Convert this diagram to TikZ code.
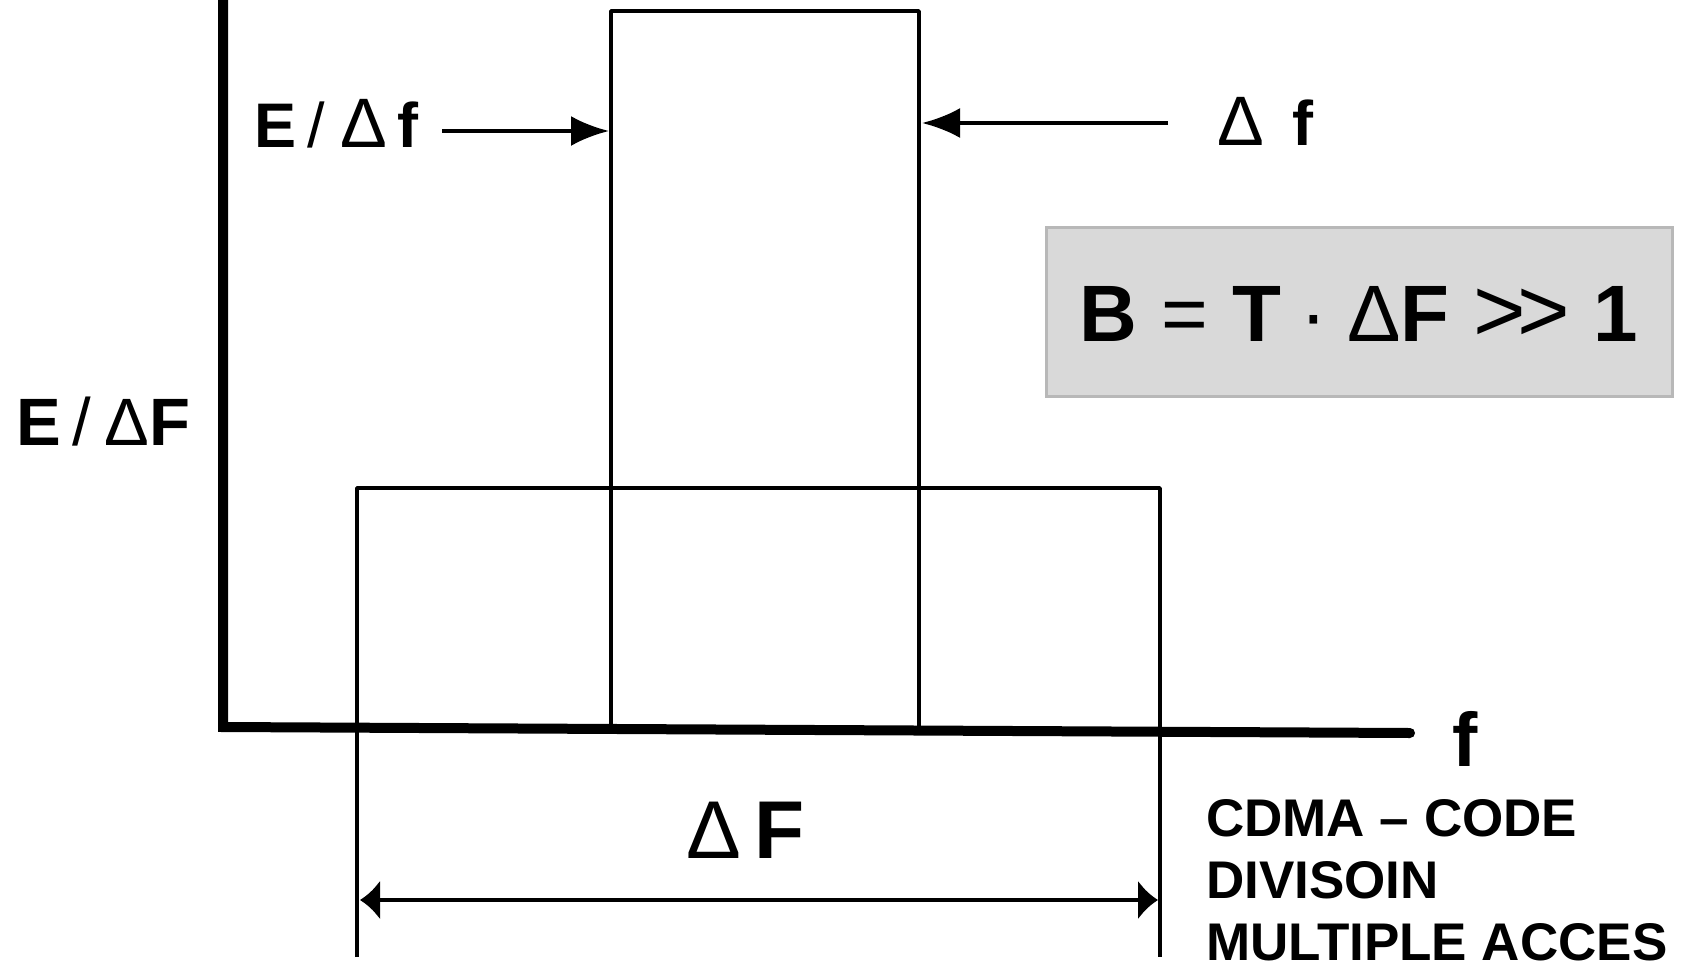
\documentclass[tikz,border=0pt]{standalone}
\usepackage{fontspec}
\setmainfont{Liberation Sans}
\usetikzlibrary{arrows.meta}
\newcommand{\dlt}{{\mdseries Δ}}
\newcommand{\gtgt}{{\mdseries\fontsize{90}{90}\selectfont >\kern-0.1em>}}
\begin{document}
\begin{tikzpicture}[x=1pt,y=-1pt,
  thinln/.style={line width=3.5pt, line join=round},
  axisln/.style={line width=10pt, line join=miter},
  arr/.style={line width=4pt, -{Latex[length=38pt,width=30pt]}},
  dimarr/.style={line width=4pt, {Latex[length=20pt,width=40pt]}-{Latex[length=20pt,width=40pt]}},
  lbl/.style={inner sep=0pt, font=\bfseries}]
\useasboundingbox (0,0) rectangle (1681,969);
% rectangles
\draw[thinln] (611,727) -- (611,11) -- (919,11) -- (919,727);
\draw[thinln] (357,957) -- (357,488) -- (1160,488) -- (1160,957);
% axes
\draw[axisln] (223,-5) -- (223,727) -- (1410,733);
\fill (1410,733) circle (5pt);
% gray box
\node[draw=black!28, line width=3pt, fill=black!15, minimum width=626pt, minimum height=169pt, inner sep=0pt] (box) at (1359,311.5) {};
\node[lbl, anchor=base, font=\bfseries\fontsize{80}{80}\selectfont] (form) at (1359,341) {B\kern0.3em{\mdseries =}\kern0.3em T\kern0.25em{\mdseries ·}\kern0.25em\dlt F\kern0.3em\gtgt\kern0.3em 1};
% labels
\node[lbl, anchor=base west, font=\bfseries\fontsize{63}{63}\selectfont] (ef) at (254,147) {E\kern0.18em{\mdseries /}\kern0.25em{\mdseries\fontsize{70}{70}\selectfont Δ}\kern0.15em f};
\node[lbl, anchor=base west, font=\bfseries\fontsize{63}{63}\selectfont] (df) at (1217,145) {{\mdseries\fontsize{70}{70}\selectfont Δ}\kern0.45em f};
\node[lbl, anchor=base west, font=\bfseries\fontsize{67}{67}\selectfont] (eF) at (16,445) {E\kern0.18em{\mdseries /}\kern0.2em\dlt F};
\node[lbl, anchor=base west, font=\bfseries\fontsize{76}{76}\selectfont] (fl) at (1452,766) {f};
\node[lbl, anchor=base west, font=\bfseries\fontsize{82}{82}\selectfont] (DF) at (686,858) {\dlt\,F};
\node[lbl, anchor=base west, align=left, font=\bfseries\fontsize{53}{62}\selectfont] (cdma) at (1206,960) {CDMA – CODE\\DIVISOIN\\MULTIPLE ACCES};
% arrows
\coordinate (tl) at (609,131);
\coordinate (tr) at (922,123);
\coordinate (dfs) at (1168,123);
\coordinate (dl) at (360,900);
\coordinate (dr) at (1158,900);
\draw[arr] ([xshift=24pt,yshift=16pt]ef.base east) coordinate (efs) -- (tl);
\draw[arr] (dfs) -- (tr);
\draw[dimarr] (dl) -- (dr);
\end{tikzpicture}
\end{document}
